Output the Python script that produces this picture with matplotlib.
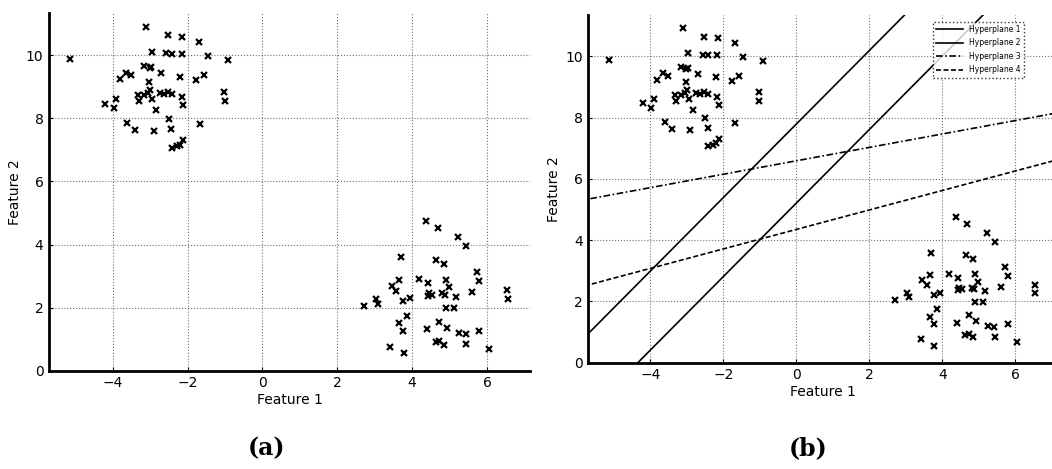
import numpy as np
import matplotlib
matplotlib.use("Agg")
import matplotlib.pyplot as plt

# cluster 1 (upper left)
x1 = [-3.10, -2.52, -2.14, -1.68, -2.96, -2.57, -2.41, -2.16, -1.46, -0.92,
      -5.14, -3.16, -3.01, -2.98, -3.64, -3.52, -3.81, -2.70, -2.20, -1.56,
      -1.76, -3.03, -1.03, -1.01, -4.21, -3.91, -3.97, -3.33, -3.30, -3.15,
      -3.06, -2.99, -2.94, -2.74, -2.63, -2.52, -2.41, -2.16, -2.11, -2.83,
      -2.50, -3.61, -3.40, -2.90, -2.43, -1.67, -2.41, -2.28, -2.20, -2.12]
y1 = [10.91, 10.64, 10.59, 10.42, 10.12, 10.06, 10.03, 10.03, 9.98, 9.84,
      9.87, 9.66, 9.60, 9.63, 9.45, 9.36, 9.24, 9.43, 9.32, 9.37,
      9.21, 9.16, 8.83, 8.55, 8.47, 8.62, 8.33, 8.74, 8.55, 8.74,
      8.79, 8.89, 8.60, 8.81, 8.76, 8.83, 8.78, 8.68, 8.42, 8.26,
      7.99, 7.86, 7.64, 7.61, 7.66, 7.83, 7.06, 7.11, 7.17, 7.30]

# cluster 2 (lower right)
x2 = [4.37, 4.69, 5.23, 5.45, 3.70, 4.64, 4.85, 5.73, 5.79, 4.18,
      4.42, 4.90, 4.98, 3.66, 3.45, 3.57, 4.46, 4.53, 4.42, 4.81,
      4.87, 5.16, 5.61, 6.53, 6.55, 3.94, 3.76, 3.03, 3.10, 2.71,
      4.90, 5.11, 3.86, 3.66, 3.76, 4.40, 4.72, 4.92, 5.25, 5.43,
      5.80, 4.63, 4.72, 4.84, 5.45, 6.06, 3.42, 3.78]
y2 = [4.76, 4.52, 4.24, 3.94, 3.59, 3.52, 3.37, 3.12, 2.83, 2.91,
      2.77, 2.89, 2.64, 2.86, 2.70, 2.54, 2.45, 2.41, 2.38, 2.45,
      2.40, 2.35, 2.48, 2.55, 2.26, 2.29, 2.21, 2.26, 2.13, 2.04,
      1.99, 1.99, 1.74, 1.50, 1.25, 1.31, 1.55, 1.36, 1.21, 1.15,
      1.25, 0.90, 0.94, 0.83, 0.85, 0.68, 0.76, 0.55]

# hyperplanes y = m*x + b
hp_names = ["Hyperplane 1", "Hyperplane 2", "Hyperplane 3", "Hyperplane 4"]
hp_slope = [1.20, 1.20, 0.219, 0.318]
hp_icept = [7.79, 5.21, 6.59, 4.35]
hp_style = ["-", "-", (0, (4, 1.5, 1, 1.5)), (0, (3, 1.5))]

xs = np.concatenate([x1, x2])
ys = np.concatenate([y1, y2])

fig = plt.figure(figsize=(10.52, 4.69), dpi=100)
axa = fig.add_axes([0.0466, 0.2096, 0.4572, 0.7633])
axb = fig.add_axes([0.5592, 0.2267, 0.4458, 0.7413])


def style(ax):
    ax.plot(xs, ys, "x", color="black", ms=4.2, mew=1.6)
    ax.set_xlim(-5.7, 7.15)
    ax.set_ylim(0, 11.35)
    ax.set_xticks([-4, -2, 0, 2, 4, 6])
    ax.set_xticklabels(["\u22124", "\u22122", "0", "2", "4", "6"])
    ax.set_yticks([0, 2, 4, 6, 8, 10])
    ax.grid(True, linestyle=":", color="black", linewidth=0.8, alpha=0.55)
    ax.spines["top"].set_visible(False)
    ax.spines["right"].set_visible(False)
    ax.spines["left"].set_linewidth(2)
    ax.spines["bottom"].set_linewidth(2)
    ax.tick_params(direction="in", length=3, labelsize=10, pad=4)
    ax.set_xlabel("Feature 1", fontsize=10, labelpad=2)
    ax.set_ylabel("Feature 2", fontsize=10, labelpad=3)


style(axa)
style(axb)

xl = np.array([-6, 8])
for m, b, ls, name in zip(hp_slope, hp_icept, hp_style, hp_names):
    axb.plot(xl, m * xl + b, color="black", linestyle=ls, linewidth=1.2, label=name)
axb.set_xlim(-5.7, 7.15)
axb.set_ylim(0, 11.35)

leg = axb.legend(loc="upper right", bbox_to_anchor=(0.977, 0.962),
                 bbox_transform=fig.transFigure, fontsize=5.5, frameon=True,
                 fancybox=False, handlelength=3.5, labelspacing=0.6)
leg.get_frame().set_edgecolor("black")
leg.get_frame().set_linestyle(":")
leg.get_frame().set_linewidth(1)

fig.text(0.253, 0.045, "(a)", fontsize=17, fontweight="bold", family="DejaVu Serif",
         ha="center", va="center")
fig.text(0.768, 0.045, "(b)", fontsize=17, fontweight="bold", family="DejaVu Serif",
         ha="center", va="center")

plt.savefig("out.png", dpi=100)
